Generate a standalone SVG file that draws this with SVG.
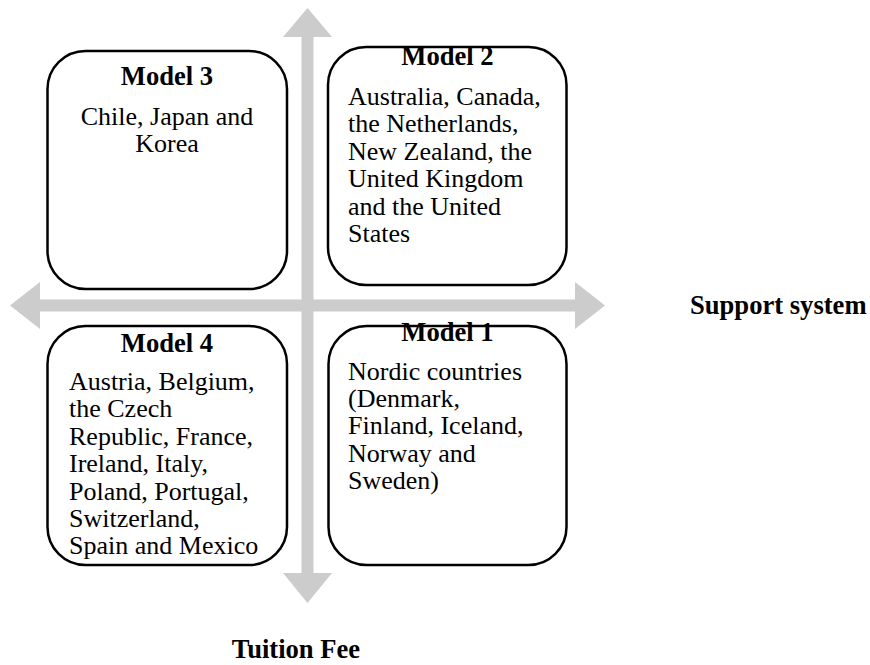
<svg xmlns="http://www.w3.org/2000/svg" width="870" height="665" viewBox="0 0 870 665">
<style>
.box{fill:#ffffff;stroke:#000000;stroke-width:2.5}
.arr{fill:#cccccc;stroke:none}
text{font-family:"Liberation Serif","Times New Roman",serif;font-size:26px;fill:#000000}
.b{font-weight:bold;font-size:26.6px}
.c{text-anchor:middle}
</style>
<rect width="870" height="665" fill="#ffffff"/>
<g id="connectors">
<polygon class="arr" points="307.5,8 332,37 313.5,37 313.5,573 332,573 307.5,603 283,573 301.5,573 301.5,37 283,37"/>
<polygon class="arr" points="10,305.5 40,282 40,299.5 575,299.5 575,282 605,305.5 575,329 575,311.5 40,311.5 40,329"/>
</g>
<g id="model3">
<rect class="box" x="47.5" y="51" width="239.5" height="238" rx="38" ry="38"/>
<text class="b c" x="167" y="85">Model 3</text>
<text class="c" x="167" y="125">Chile, Japan and</text>
<text class="c" x="167" y="152.4">Korea</text>
</g>
<g id="model2">
<rect class="box" x="328" y="47" width="238.5" height="238" rx="38" ry="38"/>
<text class="b c" x="447.5" y="65">Model 2</text>
<text x="348" y="105">Australia, Canada,</text>
<text x="348" y="132.4">the Netherlands,</text>
<text x="348" y="159.8">New Zealand, the</text>
<text x="348" y="187.2">United Kingdom</text>
<text x="348" y="214.6">and the United</text>
<text x="348" y="242">States</text>
</g>
<g id="model4">
<rect class="box" x="47.5" y="326" width="239.5" height="239" rx="38" ry="38"/>
<text class="b c" x="167" y="352">Model 4</text>
<text x="69" y="390">Austria, Belgium,</text>
<text x="69" y="417.4">the Czech</text>
<text x="69" y="444.8">Republic, France,</text>
<text x="69" y="472.2">Ireland, Italy,</text>
<text x="69" y="499.6">Poland, Portugal,</text>
<text x="69" y="527">Switzerland,</text>
<text x="69" y="554.4">Spain and Mexico</text>
</g>
<g id="model1">
<rect class="box" x="328.5" y="326" width="238" height="239" rx="38" ry="38"/>
<text class="b c" x="447.5" y="341">Model 1</text>
<text x="348" y="379.5">Nordic countries</text>
<text x="348" y="406.9">(Denmark,</text>
<text x="348" y="434.3">Finland, Iceland,</text>
<text x="348" y="461.7">Norway and</text>
<text x="348" y="489.1">Sweden)</text>
</g>
<g id="axis-labels">
<text class="b" x="690" y="314">Support system</text>
<text class="b c" x="296" y="658">Tuition Fee</text>
</g>
</svg>
